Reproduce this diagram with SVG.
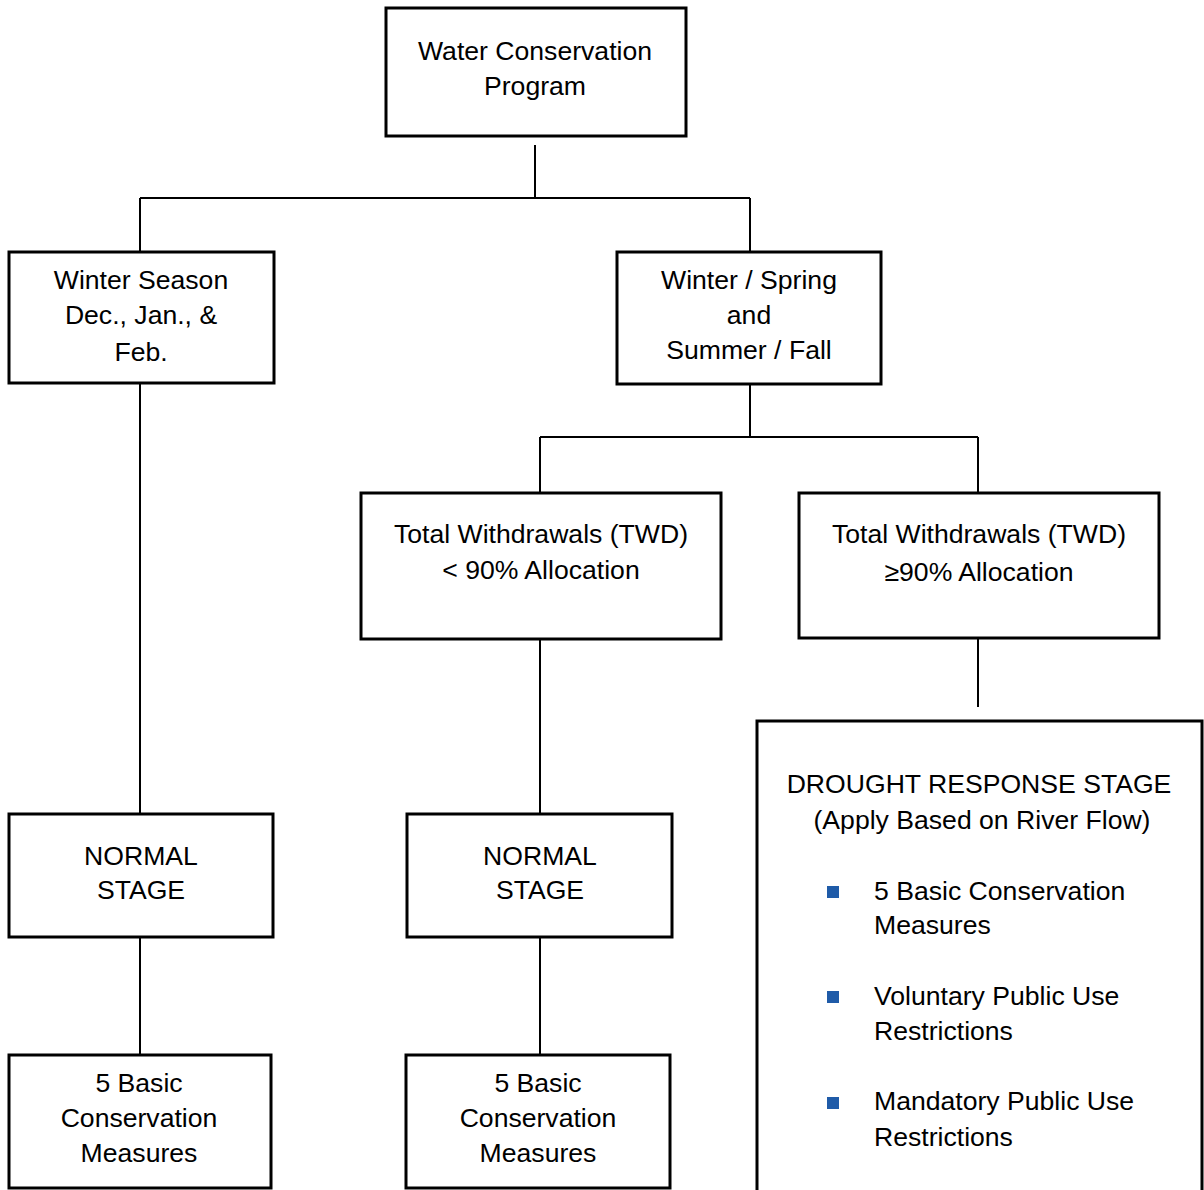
<svg xmlns="http://www.w3.org/2000/svg" width="1204" height="1190" viewBox="0 0 1204 1190">
<style>
.box{fill:#fff;stroke:#000;stroke-width:3}
.ln{fill:none;stroke:#000;stroke-width:2}
text{font-family:"Liberation Sans",Arial,sans-serif;font-size:26.6px;fill:#000}
.c{text-anchor:middle}
.bul{fill:#1F5BA8}
</style>
<rect width="1204" height="1190" fill="#fff"/>
<g id="connectors">
<path class="ln" d="M535 145V198M140 198H750M140 198V252M750 198V252"/>
<path class="ln" d="M750 385V437M540 437H978M540 437V493M978 437V493"/>
<path class="ln" d="M978 639V707"/>
<path class="ln" d="M140 384V814M140 937V1055"/>
<path class="ln" d="M540 639V814M540 937V1055"/>
</g>
<g id="n-program">
<rect class="box" x="386" y="8" width="300" height="128"/>
<text class="c" x="535" y="60">Water Conservation</text>
<text class="c" x="535" y="95">Program</text>
</g>
<g id="n-winter">
<rect class="box" x="9" y="252" width="265" height="131"/>
<text class="c" x="141" y="289">Winter Season</text>
<text class="c" x="141" y="324">Dec., Jan., &amp;</text>
<text class="c" x="141" y="361">Feb.</text>
</g>
<g id="n-winterspring">
<rect class="box" x="617" y="252" width="264" height="132"/>
<text class="c" x="749" y="289">Winter / Spring</text>
<text class="c" x="749" y="324">and</text>
<text class="c" x="749" y="359">Summer / Fall</text>
</g>
<g id="n-twd-lt">
<rect class="box" x="361" y="493" width="360" height="146"/>
<text class="c" x="541" y="543">Total Withdrawals (TWD)</text>
<text class="c" x="541" y="579">&lt; 90% Allocation</text>
</g>
<g id="n-twd-ge">
<rect class="box" x="799" y="493" width="360" height="145"/>
<text class="c" x="979" y="543">Total Withdrawals (TWD)</text>
<text class="c" x="979" y="581">≥90% Allocation</text>
</g>
<g id="n-normal-left">
<rect class="box" x="9" y="814" width="264" height="123"/>
<text class="c" x="141" y="865">NORMAL</text>
<text class="c" x="141" y="899">STAGE</text>
</g>
<g id="n-normal-mid">
<rect class="box" x="407" y="814" width="265" height="123"/>
<text class="c" x="540" y="865">NORMAL</text>
<text class="c" x="540" y="899">STAGE</text>
</g>
<g id="n-basic-left">
<rect class="box" x="9" y="1055" width="262" height="133"/>
<text class="c" x="139" y="1092">5 Basic</text>
<text class="c" x="139" y="1127">Conservation</text>
<text class="c" x="139" y="1162">Measures</text>
</g>
<g id="n-basic-mid">
<rect class="box" x="406" y="1055" width="264" height="133"/>
<text class="c" x="538" y="1092">5 Basic</text>
<text class="c" x="538" y="1127">Conservation</text>
<text class="c" x="538" y="1162">Measures</text>
</g>
<g id="n-drought">
<rect class="box" x="757" y="721" width="445" height="480"/>
<text class="c" x="979" y="793">DROUGHT RESPONSE STAGE</text>
<text class="c" x="982" y="829">(Apply Based on River Flow)</text>
<rect class="bul" x="827" y="886" width="12" height="12"/>
<text x="874" y="900">5 Basic Conservation</text>
<text x="874" y="934">Measures</text>
<rect class="bul" x="827" y="991" width="12" height="12"/>
<text x="874" y="1005">Voluntary Public Use</text>
<text x="874" y="1040">Restrictions</text>
<rect class="bul" x="827" y="1097" width="12" height="12"/>
<text x="874" y="1110">Mandatory Public Use</text>
<text x="874" y="1146">Restrictions</text>
</g>
</svg>
